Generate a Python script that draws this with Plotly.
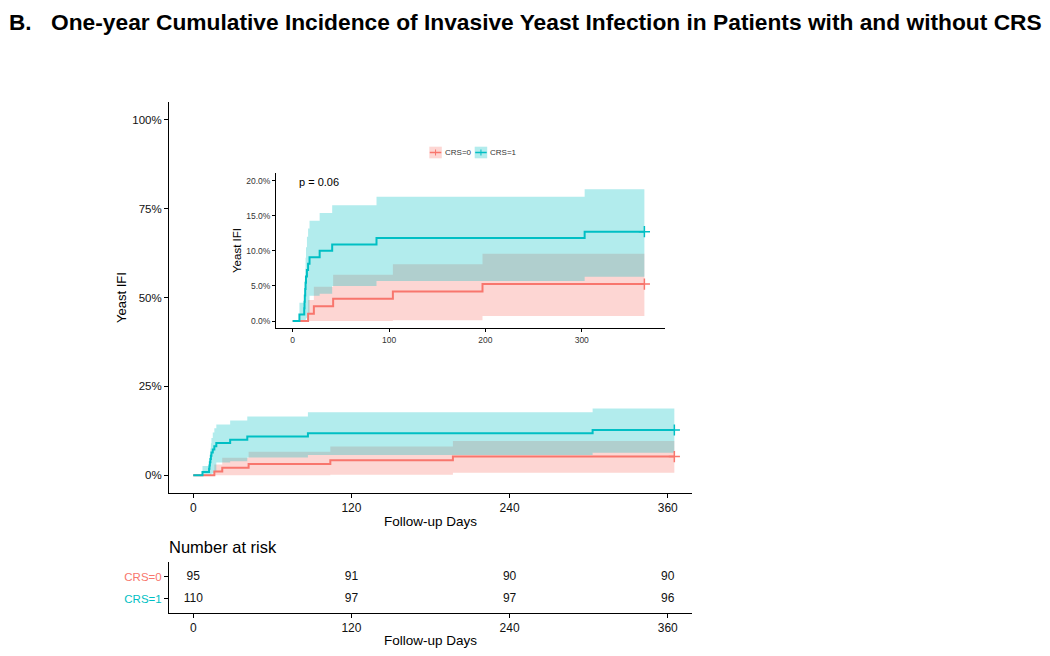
import plotly.graph_objects as go

# ---------------- data (percent) ----------------
crs1_t     = [0, 7, 12, 12.3, 12.6, 13, 13.4, 13.8, 14.8, 16, 17.5, 28, 41, 87, 303, 365]
crs1_est   = [0, 0.91, 1.82, 2.73, 3.64, 4.55, 5.45, 6.36, 7.27, 8.18, 9.09, 10.0, 10.91, 11.82, 12.73, 12.73]
crs1_upper = [0, 2.6, 3.5, 4.5, 6.0, 7.5, 9.0, 10.5, 12.0, 13.2, 14.3, 15.4, 16.5, 17.7, 18.8, 18.8]
crs1_lower = [0, 0, 0, 0, 0, 0, 0.2, 0.4, 0.6, 1.0, 3.6, 3.9, 5.0, 5.7, 6.3, 6.3]

crs0_t     = [0, 16, 22, 42, 104, 197, 365]
crs0_est   = [0, 1.05, 2.11, 3.16, 4.21, 5.26, 5.26]
crs0_upper = [0, 3.0, 4.9, 6.6, 8.1, 9.6, 9.6]
crs0_lower = [0, 0, 0, 0, 0.1, 0.7, 0.7]

groups = ["CRS=0", "CRS=1"]
risk_times = [0, 120, 240, 360]
risk_crs0 = [95, 91, 90, 90]
risk_crs1 = [110, 97, 97, 96]

main_xticks = [0, 120, 240, 360]
main_yticks = [0, 25, 50, 75, 100]
inset_xticks = [0, 100, 200, 300]
inset_yticks = [0, 5, 10, 15, 20]
p_text = "p = 0.06"
title_letter = "B."
title_text = "One-year Cumulative Incidence of Invasive Yeast Infection in Patients with and without CRS"

RED = "#F8766D"
TEAL = "#00BFC4"
RED_F = "rgba(248,118,109,0.3)"
TEAL_F = "rgba(0,191,196,0.3)"
FONT = "Liberation Sans, Arial, sans-serif"
W, H = 1050, 656
OFF = 8  # page body margin offset


def fx(p):
    return (p - OFF) / W


def fy(p):
    return 1 - (p - OFF) / H


fig = go.Figure()

series = [
    (crs0_t, crs0_est, crs0_upper, crs0_lower, RED, RED_F),
    (crs1_t, crs1_est, crs1_upper, crs1_lower, TEAL, TEAL_F),
]

for xa, ya in [("x", "y"), ("x2", "y2")]:
    for t, est, up, lo, col, fcol in series:
        fig.add_trace(go.Scatter(x=t, y=lo, mode="lines", line=dict(width=0, shape="hv"),
                                 xaxis=xa, yaxis=ya, showlegend=False, hoverinfo="skip"))
        fig.add_trace(go.Scatter(x=t, y=up, mode="lines", line=dict(width=0, shape="hv"),
                                 fill="tonexty", fillcolor=fcol,
                                 xaxis=xa, yaxis=ya, showlegend=False, hoverinfo="skip"))
    for t, est, up, lo, col, fcol in series:
        fig.add_trace(go.Scatter(x=t, y=est, mode="lines", line=dict(color=col, width=2, shape="hv"),
                                 xaxis=xa, yaxis=ya, showlegend=False))
        fig.add_trace(go.Scatter(x=[t[-1]], y=[est[-1]], mode="markers",
                                 marker=dict(symbol="cross-thin", size=8, line=dict(color=col, width=1.5)),
                                 xaxis=xa, yaxis=ya, showlegend=False))

# risk table
for vals, yv in [(risk_crs0, 1), (risk_crs1, 0)]:
    fig.add_trace(go.Scatter(x=risk_times, y=[yv] * len(risk_times), mode="text",
                             text=[str(v) for v in vals],
                             textfont=dict(size=12, color="#111", family=FONT),
                             xaxis="x3", yaxis="y3", showlegend=False))

axis_common = dict(showline=True, linecolor="black", linewidth=1, ticks="outside",
                   ticklen=4, tickcolor="black", showgrid=False, zeroline=False,
                   tickfont=dict(family=FONT, size=12, color="#111"))
inset_common = {**axis_common, "tickfont": dict(family=FONT, size=8.5, color="#333"), "ticklen": 3}

fig.update_layout(
    width=W, height=H, margin=dict(l=0, r=0, t=0, b=0),
    paper_bgcolor="white", plot_bgcolor="rgba(0,0,0,0)",
    font=dict(family=FONT),
    xaxis=dict(domain=[fx(169), fx(692)], range=[-18.4, 378.4], anchor="y",
               tickvals=main_xticks, **axis_common),
    yaxis=dict(domain=[fy(493), fy(102)], range=[-5, 105], anchor="x",
               tickvals=main_yticks, ticktext=[f"{v}%" for v in main_yticks],
               **{**axis_common, "tickfont": dict(family=FONT, size=11.5, color="#111")}),
    xaxis2=dict(domain=[fx(276), fx(665)], range=[-17.3, 386.4], anchor="y2",
                tickvals=inset_xticks, **inset_common),
    yaxis2=dict(domain=[fy(328.3), fy(173)], range=[-1.04, 21.1], anchor="x2",
                tickvals=inset_yticks, ticktext=[f"{v:.1f}%" for v in inset_yticks], **inset_common),
    xaxis3=dict(domain=[fx(169), fx(692)], range=[-18.4, 378.4], anchor="y3",
                tickvals=main_xticks, **axis_common),
    yaxis3=dict(domain=[fy(613), fy(562)], range=[-0.64, 1.68], anchor="x3",
                tickvals=[1, 0],
                ticktext=[f'<span style="color:{RED}">{groups[0]}</span>',
                          f'<span style="color:{TEAL}">{groups[1]}</span>'],
                **{**axis_common, "tickfont": dict(family=FONT, size=11.5)}),
)


def note(px, py, text, size, anchor="center", angle=0, color="black", pad=1):
    return dict(x=fx(px), y=fy(py), xref="paper", yref="paper", xanchor=anchor, yanchor="middle",
                text=text, textangle=angle, showarrow=False, borderpad=pad,
                font=dict(family=FONT, size=size, color=color))


ann = [
    note(8, 22, f"<b>{title_letter}</b>", 22.5, "left", pad=0),
    note(50, 22, f"<b>{title_text}</b>", 22.75, "left", pad=0),
    note(121, 298, "Yeast IFI", 13, angle=-90),
    note(430, 521, "Follow-up Days", 13.5),
    note(237, 251, "Yeast IFI", 11.5, angle=-90),
    note(297, 182, p_text, 11, "left"),
    note(167, 547, "Number at risk", 16.5, "left"),
    note(430, 640, "Follow-up Days", 13.5),
]

# inset legend
shapes = []
leg = [(429.3, groups[0], RED, RED_F), (474.7, groups[1], TEAL, TEAL_F)]
for x0, lab, col, fcol in leg:
    shapes.append(dict(type="rect", xref="paper", yref="paper",
                       x0=fx(x0), x1=fx(x0 + 12.5), y0=fy(158.3), y1=fy(146.7),
                       fillcolor=fcol, line=dict(width=0)))
    shapes.append(dict(type="line", xref="paper", yref="paper",
                       x0=fx(x0 + 0.5), x1=fx(x0 + 12), y0=fy(152.5), y1=fy(152.5),
                       line=dict(color=col, width=1.5)))
    shapes.append(dict(type="line", xref="paper", yref="paper",
                       x0=fx(x0 + 6.25), x1=fx(x0 + 6.25), y0=fy(149.5), y1=fy(155.5),
                       line=dict(color=col, width=1)))
    ann.append(note(x0 + 13.5, 152.5, lab, 8, "left", color="#333"))

fig.update_layout(annotations=ann, shapes=shapes)
fig.write_html("out.html")
